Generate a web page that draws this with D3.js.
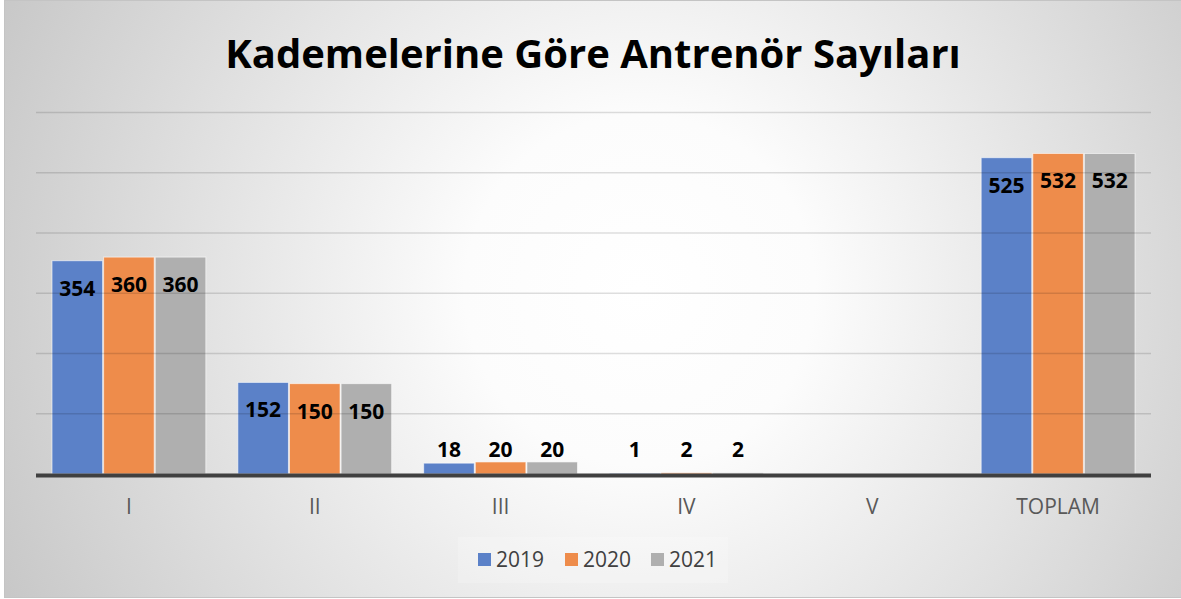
<!DOCTYPE html>
<html>
<head>
<meta charset="utf-8">
<script src="https://cdn.jsdelivr.net/npm/d3@7"></script>
<style>
  body { margin: 0; background: #fff; }
  text { font-family: "Open Sans", "Noto Sans", sans-serif; }
</style>
</head>
<body>
<div id="chart"></div>
<script>
// chart data
const categories = ["I", "II", "III", "IV", "V", "TOPLAM"]
const years = ["2019", "2020", "2021"]
const values2019 = [354, 152, 18, 1, null, 525]
const values2020 = [360, 150, 20, 2, null, 532]
const values2021 = [360, 150, 20, 2, null, 532]
const yTicks = [0, 100, 200, 300, 400, 500, 600]
const colors = ["#5b81c8", "#ee8c4b", "#afafaf"]
const title = "Kademelerine Göre Antrenör Sayıları"

const series = [values2019, values2020, values2021]

const W = 1181, H = 599
const svg = d3.select("#chart").append("svg")
  .attr("width", W)
  .attr("height", H)

// background gradient
const defs = svg.append("defs")
const grad = defs.append("radialGradient")
  .attr("id", "bg")
  .attr("gradientUnits", "userSpaceOnUse")
  .attr("cx", 640).attr("cy", 290).attr("r", 700)
grad.append("stop").attr("offset", "0").attr("stop-color", "#ffffff")
grad.append("stop").attr("offset", "0.25").attr("stop-color", "#fcfcfc")
grad.append("stop").attr("offset", "1").attr("stop-color", "#c8c8c8")

svg.append("rect")
  .attr("x", 4.5).attr("y", 0.5)
  .attr("width", 1200).attr("height", 597)
  .attr("fill", "url(#bg)")
  .attr("stroke", "#c4c4c4")

svg.append("text")
  .attr("x", 593)
  .attr("y", 68)
  .attr("text-anchor", "middle")
  .attr("font-size", 40)
  .attr("font-weight", "bold")
  .attr("fill", "#000")
  .text(title)

var x = d3.scaleBand()
  .domain(categories)
  .range([36, 1151])

var x1 = d3.scaleBand()
  .domain(years)
  .range([16, x.bandwidth() - 16])
  .paddingInner(0.02)

var y = d3.scaleLinear()
  .domain([0, 600])
  .range([474, 112.5])

// bars
categories.forEach((c, i) => {
  years.forEach((yr, j) => {
    const v = series[j][i]
    if (v == null) return
    svg.append("rect")
      .attr("class", "bar")
      .attr("x", x(c) + x1(yr))
      .attr("y", y(v))
      .attr("width", x1.bandwidth())
      .attr("height", y(0) - y(v))
      .attr("fill", colors[j])
      .attr("stroke", "rgba(255,255,255,0.6)")
      .attr("stroke-width", 1)
  })
})

// gridlines (drawn over the bars, semi transparent)
svg.append("g")
  .attr("class", "grid")
  .selectAll("line")
  .data(yTicks.filter(d => d > 0))
  .enter().append("line")
  .attr("x1", 36).attr("x2", 1151)
  .attr("y1", d => y(d)).attr("y2", d => y(d))
  .attr("stroke", "rgba(0,0,0,0.13)")
  .attr("stroke-width", 1.3)

// x axis
var xAxis = d3.axisBottom(x).tickSize(0).tickPadding(0)
const gx = svg.append("g")
  .attr("class", "x axis")
  .attr("transform", "translate(0," + 475.5 + ")")
  .call(xAxis)
gx.select(".domain")
  .attr("stroke", "#404040")
  .attr("stroke-width", 4)
  .attr("d", "M36,0H1151")
gx.selectAll(".tick text")
  .attr("dy", null)
  .attr("y", 38.5)
  .attr("font-size", 21)
  .attr("font-family", "'Open Sans', sans-serif")
  .attr("fill", "#595959")

// value labels
categories.forEach((c, i) => {
  years.forEach((yr, j) => {
    const v = series[j][i]
    if (v == null) return
    svg.append("text")
      .attr("x", x(c) + x1(yr) + x1.bandwidth() / 2)
      .attr("y", Math.min(y(v) + 35, 457))
      .attr("text-anchor", "middle")
      .attr("font-size", 21)
      .attr("font-weight", "bold")
      .attr("fill", "#000")
      .text(v)
  })
})

// legend
svg.append("rect")
  .attr("x", 458).attr("y", 537)
  .attr("width", 270).attr("height", 46)
  .attr("fill", "rgba(255,255,255,0.2)")

const legendX = [478, 565, 651]
years.forEach((yr, j) => {
  svg.append("rect")
    .attr("x", legendX[j]).attr("y", 553)
    .attr("width", 13).attr("height", 13)
    .attr("fill", colors[j])
  svg.append("text")
    .attr("x", legendX[j] + 18)
    .attr("y", 567)
    .attr("font-size", 21)
    .attr("fill", "#404040")
    .text(yr)
})
</script>
</body>
</html>
